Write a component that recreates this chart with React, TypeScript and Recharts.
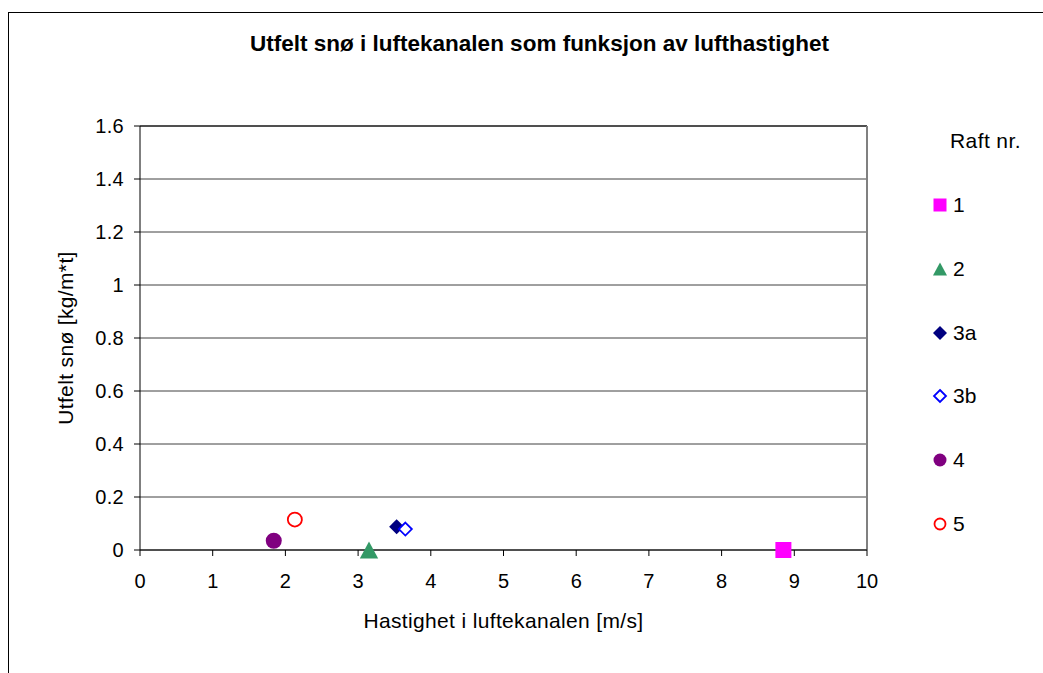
import React from "react"
import {
  ScatterChart,
  Scatter,
  XAxis,
  YAxis,
  CartesianGrid,
  ReferenceLine,
} from "recharts"

const title = "Utfelt snø i luftekanalen som funksjon av lufthastighet"
const xLabel = "Hastighet i luftekanalen [m/s]"
const yLabel = "Utfelt snø [kg/m*t]"
const legendTitle = "Raft nr."

const xTicks = [0, 1, 2, 3, 4, 5, 6, 7, 8, 9, 10]
const yTicks = [0, 0.2, 0.4, 0.6, 0.8, 1, 1.2, 1.4, 1.6]

// one point per raft
const raft1 = [{ x: 8.85, y: 0 }]
const raft2 = [{ x: 3.15, y: 0 }]
const raft3a = [{ x: 3.53, y: 0.088 }]
const raft3b = [{ x: 3.65, y: 0.079 }]
const raft4 = [{ x: 1.84, y: 0.035 }]
const raft5 = [{ x: 2.13, y: 0.115 }]

type Kind = "square" | "triangle" | "diamond" | "diamondOpen" | "circle" | "circleOpen"

const series: { name: string; data: { x: number; y: number }[]; color: string; kind: Kind }[] = [
  { name: "1", data: raft1, color: "#FF00FF", kind: "square" },
  { name: "2", data: raft2, color: "#339966", kind: "triangle" },
  { name: "3a", data: raft3a, color: "#000080", kind: "diamond" },
  { name: "3b", data: raft3b, color: "#0000FF", kind: "diamondOpen" },
  { name: "4", data: raft4, color: "#800080", kind: "circle" },
  { name: "5", data: raft5, color: "#FF0000", kind: "circleOpen" },
]

const FONT = "'Liberation Sans', Arial, sans-serif"

const marker = (kind: Kind, color: string, cx: number, cy: number, s: number) => {
  switch (kind) {
    case "square":
      return <rect x={cx - s} y={cy - s} width={2 * s} height={2 * s} fill={color} />
    case "triangle":
      return (
        <polygon
          points={`${cx},${cy - s} ${cx - s * 1.08},${cy + s} ${cx + s * 1.08},${cy + s}`}
          fill={color}
        />
      )
    case "diamond":
      return (
        <polygon
          points={`${cx},${cy - s} ${cx + s},${cy} ${cx},${cy + s} ${cx - s},${cy}`}
          fill={color}
        />
      )
    case "diamondOpen":
      return (
        <polygon
          points={`${cx},${cy - s + 1} ${cx + s - 1},${cy} ${cx},${cy + s - 1} ${cx - s + 1},${cy}`}
          fill="#fff"
          stroke={color}
          strokeWidth={1.8}
        />
      )
    case "circle":
      return <circle cx={cx} cy={cy} r={s} fill={color} />
    case "circleOpen":
      return <circle cx={cx} cy={cy} r={s - 1} fill="#fff" stroke={color} strokeWidth={1.8} />
  }
}

const plotSize: Record<Kind, number> = {
  square: 8,
  triangle: 8.5,
  diamond: 7.5,
  diamondOpen: 7.5,
  circle: 8,
  circleOpen: 8,
}

const legendSize: Record<Kind, number> = {
  square: 6.5,
  triangle: 6.5,
  diamond: 7,
  diamondOpen: 7,
  circle: 6.5,
  circleOpen: 6.5,
}

const labelStyle = { fontSize: 21, fill: "#000", fontFamily: FONT, letterSpacing: 0.35 }

const App = () => {
  return (
    <div
      style={{
        position: "fixed",
        left: 8,
        top: 12,
        width: 1100,
        height: 700,
        borderLeft: "1px solid #000",
        borderTop: "1px solid #000",
        background: "#fff",
        fontFamily: FONT,
      }}
    >
      <div
        style={{
          position: "absolute",
          left: 530.5,
          top: 19.5,
          transform: "translateX(-50%)",
          whiteSpace: "nowrap",
          fontSize: 22.5,
          lineHeight: "22px",
          fontWeight: "bold",
        }}
      >
        {title}
      </div>
      <ScatterChart
        width={1034}
        height={660}
        margin={{ top: 113, right: 176, left: 0, bottom: 63 }}
        style={{ fontFamily: FONT }}
      >
        <CartesianGrid vertical={false} stroke="#404040" />
        <XAxis
          type="number"
          dataKey="x"
          domain={[0, 10]}
          ticks={xTicks}
          interval={0}
          height={60}
          tickSize={6}
          tickMargin={18}
          axisLine={{ stroke: "#000" }}
          tickLine={{ stroke: "#000" }}
          tick={{ fontSize: 20, fill: "#000", fontFamily: FONT }}
          label={{ value: xLabel, position: "bottom", offset: 3, ...labelStyle }}
        />
        <YAxis
          type="number"
          dataKey="y"
          domain={[0, 1.6]}
          ticks={yTicks}
          interval={0}
          width={131}
          tickSize={6}
          tickMargin={10}
          axisLine={{ stroke: "#000" }}
          tickLine={{ stroke: "#000" }}
          tick={{ fontSize: 20, fill: "#000", fontFamily: FONT, letterSpacing: 0.3 }}
          label={{
            value: yLabel,
            angle: -90,
            position: "insideLeft",
            offset: 57,
            ...labelStyle,
            style: { textAnchor: "middle" },
          }}
        />
        <ReferenceLine y={1.6} stroke="#000" strokeWidth={1} />
        <ReferenceLine x={10} stroke="#808080" strokeWidth={2} />
        {series.map((s) => (
          <Scatter
            key={s.name}
            name={s.name}
            data={s.data}
            isAnimationActive={false}
            shape={(p: any) => marker(s.kind, s.color, p.cx, p.cy, plotSize[s.kind])}
          />
        ))}
      </ScatterChart>
      <div
        style={{
          position: "absolute",
          left: 941,
          top: 118,
          fontSize: 21,
          lineHeight: "20px",
          letterSpacing: 0.4,
          whiteSpace: "nowrap",
        }}
      >
        {legendTitle}
      </div>
      {series.map((s, i) => (
        <div
          key={s.name}
          style={{
            position: "absolute",
            left: 921,
            top: 192 + i * 63.8 - 10,
            height: 20,
            display: "flex",
            alignItems: "center",
            fontSize: 21,
            lineHeight: "20px",
            whiteSpace: "nowrap",
          }}
        >
          <svg width={20} height={20} style={{ display: "block" }}>
            {marker(s.kind, s.color, 10, 10, legendSize[s.kind])}
          </svg>
          <span style={{ marginLeft: 3 }}>{s.name}</span>
        </div>
      ))}
    </div>
  )
}

export default App
